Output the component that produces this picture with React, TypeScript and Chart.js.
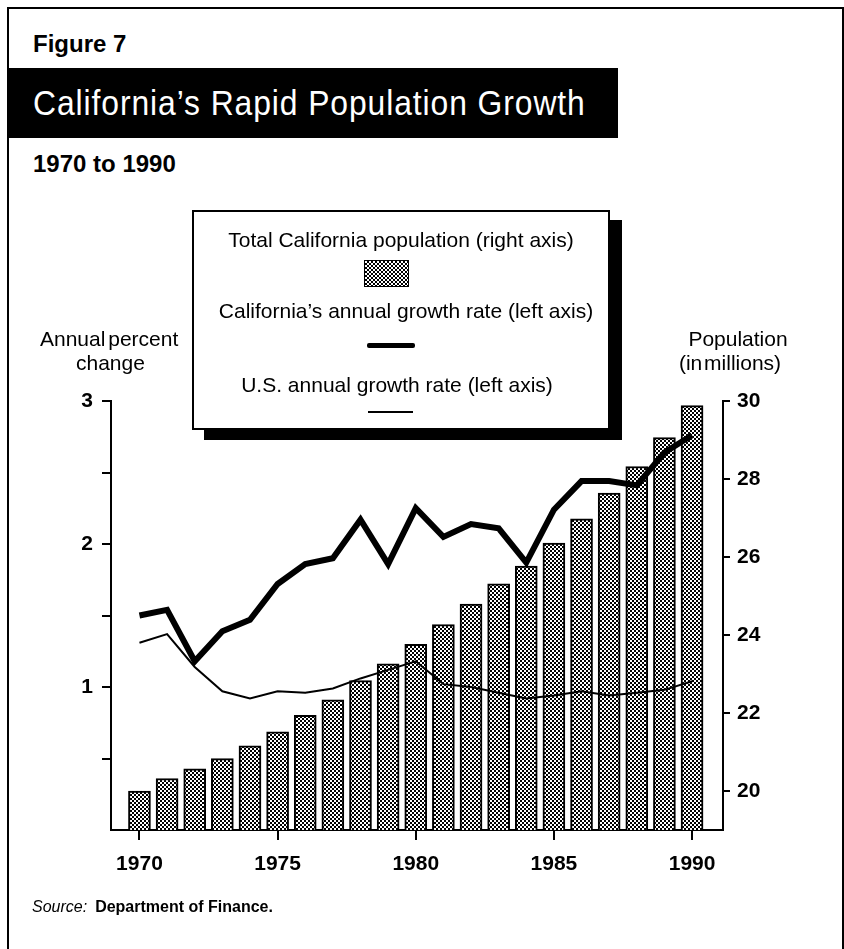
import React, { useEffect, useRef } from "react";
import { Chart, registerables } from "chart.js";

Chart.register(...registerables);

// ---- data ----
const years = [
  1970, 1971, 1972, 1973, 1974, 1975, 1976, 1977, 1978, 1979, 1980,
  1981, 1982, 1983, 1984, 1985, 1986, 1987, 1988, 1989, 1990,
];
// Total California population, millions (right axis)
const caPopulation = [
  20.0, 20.32, 20.57, 20.83, 21.16, 21.52, 21.94, 22.34, 22.83, 23.26, 23.76,
  24.27, 24.79, 25.31, 25.77, 26.36, 26.98, 27.64, 28.32, 29.06, 29.88,
];
// California's annual growth rate, percent (left axis)
const caGrowth = [
  1.5, 1.54, 1.18, 1.39, 1.47, 1.72, 1.86, 1.9, 2.17, 1.86, 2.25,
  2.05, 2.14, 2.11, 1.87, 2.24, 2.44, 2.44, 2.41, 2.64, 2.76,
];
// U.S. annual growth rate, percent (left axis)
const usGrowth = [
  1.31, 1.37, 1.14, 0.97, 0.92, 0.97, 0.96, 0.99, 1.06, 1.12, 1.18,
  1.02, 1.0, 0.96, 0.92, 0.94, 0.97, 0.94, 0.96, 0.98, 1.04,
];
const yearTicks = [1970, 1975, 1980, 1985, 1990];
const percentTicks = [0.5, 1, 1.5, 2, 2.5, 3];
const populationTicks = [20, 22, 24, 26, 28, 30];

const FONT = '"Liberation Sans", Arial, Helvetica, sans-serif';
const PAGE_W = 844;
const PAGE_H = 949;

type LabelProps = {
  x: number;
  y: number; // baseline
  size: number;
  weight?: string;
  align?: "left" | "center" | "right";
  color?: string;
  style?: React.CSSProperties;
  children: React.ReactNode;
};

function Label({ x, y, size, weight, align, color, style, children }: LabelProps) {
  const s: React.CSSProperties = {
    position: "absolute",
    top: y - 0.8465 * size,
    fontSize: size,
    lineHeight: `${size}px`,
    fontWeight: (weight || "normal") as any,
    fontFamily: FONT,
    whiteSpace: "nowrap",
    color: color || "#000",
  };
  if (align === "center") {
    s.left = x - 400;
    s.width = 800;
    s.textAlign = "center";
  } else if (align === "right") {
    s.right = PAGE_W - x;
    s.textAlign = "right";
  } else {
    s.left = x;
  }
  return <div style={{ ...s, ...style }}>{children}</div>;
}

const checker: React.CSSProperties = {
  background: "repeating-conic-gradient(#000 0 25%, #fff 0 50%) 0 0 / 4px 4px",
};

function makePattern(ctx: CanvasRenderingContext2D) {
  const tile = document.createElement("canvas");
  tile.width = 4;
  tile.height = 4;
  const g = tile.getContext("2d")!;
  g.fillStyle = "#fff";
  g.fillRect(0, 0, 4, 4);
  g.fillStyle = "#000";
  g.fillRect(0, 0, 2, 2);
  g.fillRect(2, 2, 2, 2);
  return ctx.createPattern(tile, "repeat")!;
}

function PopulationChart() {
  const ref = useRef<HTMLCanvasElement | null>(null);

  useEffect(() => {
    const canvas = ref.current!;
    const ctx = canvas.getContext("2d")!;
    const pattern = makePattern(ctx);
    const tickFont = { family: FONT, size: 21, weight: "bold" as const };

    const chart = new Chart(ctx, {
      type: "line",
      data: {
        datasets: [
          {
            type: "line",
            label: "California's annual growth rate (left axis)",
            data: years.map((yr, i) => ({ x: yr, y: caGrowth[i] })),
            yAxisID: "y",
            xAxisID: "x",
            borderColor: "#000",
            borderWidth: 6,
            pointRadius: 0,
            tension: 0,
            borderJoinStyle: "miter",
            borderCapStyle: "butt",
            order: 0,
          },
          {
            type: "line",
            label: "U.S. annual growth rate (left axis)",
            data: years.map((yr, i) => ({ x: yr, y: usGrowth[i] })),
            yAxisID: "y",
            xAxisID: "x",
            borderColor: "#000",
            borderWidth: 2,
            pointRadius: 0,
            tension: 0,
            order: 1,
          },
          {
            type: "bar",
            label: "Total California population (right axis)",
            data: years.map((yr, i) => ({ x: yr, y: caPopulation[i] })),
            yAxisID: "y1",
            xAxisID: "x",
            backgroundColor: pattern,
            borderColor: "#000",
            borderWidth: 2,
            barThickness: 22,
            order: 2,
          } as any,
        ],
      },
      options: {
        responsive: false,
        animation: false,
        devicePixelRatio: 1,
        events: [],
        layout: { padding: { top: 401, left: 0, right: 0, bottom: 0 } },
        plugins: { legend: { display: false }, tooltip: { enabled: false } },
        scales: {
          x: {
            type: "linear",
            position: "bottom",
            min: 1968.97,
            max: 1991.12,
            offset: false,
            afterBuildTicks: (s: any) => {
              s.ticks = yearTicks.map((v) => ({ value: v }));
            },
            afterFit: (s: any) => {
              s.height = PAGE_H - 830;
            },
            grid: {
              drawOnChartArea: false,
              drawTicks: true,
              tickLength: 10,
              color: "#000",
              lineWidth: 2,
              offset: false,
            },
            border: { display: true, color: "#000", width: 2 },
            ticks: {
              font: tickFont,
              color: "#000",
              padding: 12,
              maxRotation: 0,
              autoSkip: false,
              callback: (v: any) => String(v),
            },
          },
          y: {
            type: "linear",
            position: "left",
            min: 0,
            max: 3,
            afterBuildTicks: (s: any) => {
              s.ticks = percentTicks.map((v) => ({ value: v }));
            },
            afterFit: (s: any) => {
              s.width = 111;
            },
            grid: {
              drawOnChartArea: false,
              drawTicks: true,
              tickLength: 9,
              color: "#000",
              lineWidth: 2,
            },
            border: { display: true, color: "#000", width: 2 },
            ticks: {
              font: tickFont,
              color: "#000",
              padding: 9,
              autoSkip: false,
              callback: (v: any) => (Number.isInteger(v) ? String(v) : ""),
            },
          },
          y1: {
            type: "linear",
            position: "right",
            min: 19,
            max: 30,
            afterBuildTicks: (s: any) => {
              s.ticks = populationTicks.map((v) => ({ value: v }));
            },
            afterFit: (s: any) => {
              s.width = PAGE_W - 723;
            },
            grid: {
              drawOnChartArea: false,
              drawTicks: true,
              tickLength: 7,
              color: "#000",
              lineWidth: 2,
            },
            border: { display: true, color: "#000", width: 2 },
            ticks: {
              font: tickFont,
              color: "#000",
              padding: 7,
              autoSkip: false,
              callback: (v: any) => String(v),
            },
          },
        },
      } as any,
    });
    return () => chart.destroy();
  }, []);

  return (
    <canvas
      ref={ref}
      width={PAGE_W}
      height={PAGE_H}
      style={{ position: "absolute", left: 0, top: 0, width: PAGE_W, height: PAGE_H }}
    />
  );
}

export default function App() {
  return (
    <div
      style={{
        position: "absolute",
        left: 0,
        top: 0,
        width: PAGE_W,
        height: PAGE_H,
        overflow: "hidden",
        background: "#fff",
        fontFamily: FONT,
      }}
    >
      {/* outer frame */}
      <div
        style={{
          position: "absolute",
          left: 7,
          top: 7,
          width: 833,
          height: 980,
          border: "2px solid #000",
        }}
      />

      <Label x={33} y={52} size={24} weight="bold">
        Figure 7
      </Label>
      <div
        style={{ position: "absolute", left: 8, top: 68, width: 610, height: 70, background: "#000" }}
      />
      <Label
        x={33}
        y={115}
        size={35}
        color="#fff"
        style={{ transform: "scaleX(0.91)", transformOrigin: "left center", letterSpacing: 1 }}
      >
        California’s Rapid Population Growth
      </Label>
      <Label x={33} y={172} size={24} weight="bold">
        1970 to 1990
      </Label>

      <PopulationChart />

      {/* axis titles */}
      <Label x={40} y={346} size={21} style={{ wordSpacing: -3 }}>
        Annual percent
      </Label>
      <Label x={76} y={370} size={21}>
        change
      </Label>
      <Label x={738} y={346} size={21} align="center">
        Population
      </Label>
      <Label x={730} y={370} size={21} align="center" style={{ wordSpacing: -4 }}>
        (in millions)
      </Label>

      {/* legend box */}
      <div
        style={{
          position: "absolute",
          left: 192,
          top: 210,
          width: 414,
          height: 216,
          border: "2px solid #000",
          background: "#fff",
          boxShadow: "12px 10px 0 0 #000",
        }}
      />
      <Label x={401} y={247} size={21} align="center">
        Total California population (right axis)
      </Label>
      <div
        style={{
          position: "absolute",
          left: 364,
          top: 260,
          width: 43,
          height: 25,
          border: "1.5px solid #000",
          ...checker,
        }}
      />
      <Label x={406} y={318} size={21} align="center">
        California’s annual growth rate (left axis)
      </Label>
      <div
        style={{
          position: "absolute",
          left: 367,
          top: 343,
          width: 48,
          height: 5,
          borderRadius: 2,
          background: "#000",
        }}
      />
      <Label x={397} y={392} size={21} align="center">
        U.S. annual growth rate (left axis)
      </Label>
      <div
        style={{ position: "absolute", left: 368, top: 411, width: 45, height: 2, background: "#000" }}
      />

      {/* source note */}
      <Label x={32} y={913} size={16}>
        <span style={{ fontStyle: "italic" }}>Source:</span>
        <span style={{ fontWeight: "bold", marginLeft: 8 }}>Department of Finance.</span>
      </Label>
    </div>
  );
}
